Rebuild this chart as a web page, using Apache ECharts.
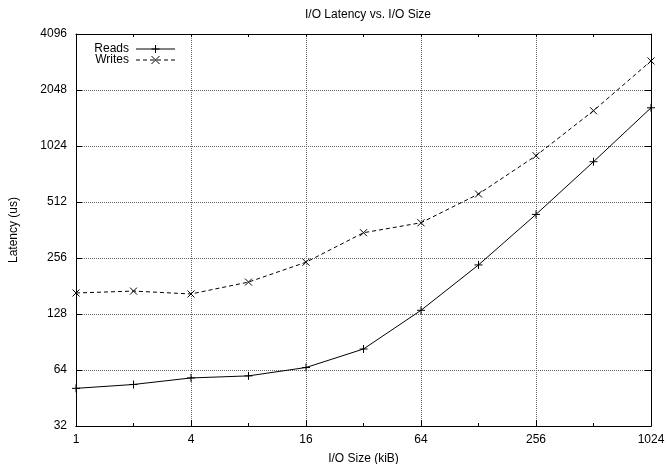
<!DOCTYPE html>
<html>
<head>
<meta charset="utf-8">
<script src="https://cdn.jsdelivr.net/npm/echarts@6/dist/echarts.min.js"></script>
<style>
  html, body { margin: 0; padding: 0; background: #fff; }
  #chart { width: 668px; height: 464px; }
</style>
</head>
<body>
<div id="chart"></div>
<script>
// I/O size in kiB, latency in us
const sizes = [1, 2, 4, 8, 16, 32, 64, 128, 256, 512, 1024];
const reads = [51, 53.5, 58, 59.5, 66, 83, 134, 235, 439, 843, 1643];
const writes = [166, 170, 164, 190, 243, 350, 396, 565, 908, 1585, 2934];

const font = 'Liberation Sans, Arial, Helvetica, sans-serif';
const plusPath = 'path://M0,-5L0,5M-5,0L5,0';
const crossPath = 'path://M-5,-5L5,5M-5,5L5,-5';

let chart = echarts.init(document.getElementById('chart'), null, { renderer: 'canvas' });

// extra tick-only axes (gnuplot style mirrored ticks)
const tickOnly = (pos, isX, len) => ({
  type: 'log',
  logBase: 2,
  position: pos,
  min: isX ? 1 : 32,
  max: isX ? 1024 : 4096,
  interval: 1,
  axisLine: { show: true, lineStyle: { color: '#000', width: 1 } },
  axisTick: { show: true, inside: true, length: len, lineStyle: { color: '#000' } },
  axisLabel: { show: false },
  splitLine: { show: false }
});

const option = {
  animation: false,
  backgroundColor: '#fff',
  title: {
    text: 'I/O Latency vs. I/O Size',
    left: 363,
    textAlign: 'center',
    top: 4,
    textStyle: { fontFamily: font, fontSize: 12, fontWeight: 'normal', color: '#000' }
  },
  legend: {
    orient: 'vertical',
    left: 89,
    top: 43,
    padding: 0,
    align: 'right',
    itemWidth: 39,
    itemHeight: 10,
    itemGap: -1,
    data: ['Reads', 'Writes'],
    itemStyle: { borderWidth: 1 },
    lineStyle: { width: 1 },
    textStyle: { fontFamily: font, fontSize: 12, lineHeight: 12, color: '#000', width: 40, align: 'right', padding: [0, 2, 0, 0] }
  },
  grid: { left: 76, right: 17, top: 34, bottom: 38, outerBoundsMode: 'none', containLabel: false },
  xAxis: [
    {
      type: 'log',
      logBase: 2,
      min: 1,
      max: 1024,
      interval: 2,
      name: 'I/O Size (kiB)',
      nameLocation: 'middle',
      nameGap: 27,
      nameTextStyle: { fontFamily: font, fontSize: 12, color: '#000' },
      axisLine: { show: true, lineStyle: { color: '#000', width: 1 } },
      axisTick: { show: true, inside: true, length: 6, lineStyle: { color: '#000' } },
      axisLabel: { fontFamily: font, fontSize: 12, color: '#000', margin: 8, formatter: v => String(Math.round(v)) },
      splitLine: { show: true, lineStyle: { type: 'dotted', color: '#666', width: 1 } }
    },
    tickOnly('bottom', true, 3),
    tickOnly('top', true, 3)
  ],
  yAxis: [
    {
      type: 'log',
      logBase: 2,
      min: 32,
      max: 4096,
      interval: 1,
      name: 'Latency (us)',
      nameLocation: 'middle',
      nameGap: 56,
      nameRotate: 90,
      nameTextStyle: { fontFamily: font, fontSize: 12, color: '#000' },
      axisLine: { show: true, lineStyle: { color: '#000', width: 1 } },
      axisTick: { show: true, inside: true, length: 6, lineStyle: { color: '#000' } },
      axisLabel: { fontFamily: font, fontSize: 12, color: '#000', margin: 9, formatter: v => String(Math.round(v)) },
      splitLine: { show: true, lineStyle: { type: 'dotted', color: '#666', width: 1 } }
    },
    tickOnly('right', false, 6)
  ],
  series: [
    {
      name: 'Reads',
      type: 'line',
      xAxisIndex: 0,
      yAxisIndex: 0,
      data: sizes.map((s, i) => [s, reads[i]]),
      symbol: plusPath,
      symbolSize: 8,
      showAllSymbol: true,
      lineStyle: { color: '#000', width: 1, type: 'solid' },
      itemStyle: { color: '#000', borderColor: '#000', borderWidth: 1 },
      emphasis: { disabled: true }
    },
    {
      name: 'Writes',
      type: 'line',
      xAxisIndex: 0,
      yAxisIndex: 0,
      data: sizes.map((s, i) => [s, writes[i]]),
      symbol: crossPath,
      symbolSize: 7,
      showAllSymbol: true,
      lineStyle: { color: '#000', width: 1, type: [4, 3] },
      itemStyle: { color: '#000', borderColor: '#000', borderWidth: 1 },
      emphasis: { disabled: true }
    }
  ]
};

chart.setOption(option);
</script>
</body>
</html>
